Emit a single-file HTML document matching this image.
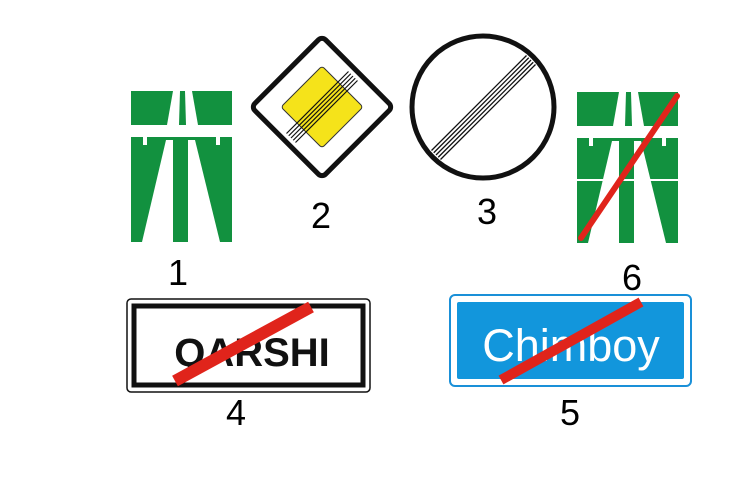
<!DOCTYPE html>
<html><head><meta charset="utf-8"><style>
html,body{margin:0;padding:0;background:#fff;}
svg{display:block;font-family:"Liberation Sans",sans-serif;}
</style></head><body>
<svg width="740" height="490" viewBox="0 0 740 490">
<defs>
<g id="mw">
<rect x="131" y="91" width="101" height="34" fill="#12913f"/>
<polygon points="173,91 192,91 198,125 167,125" fill="#fff"/>
<polygon points="180,91 185,91 186,125 179,125" fill="#12913f"/>
<rect x="131" y="137" width="101" height="105" fill="#12913f"/>
<rect x="143" y="137" width="4" height="8" fill="#fff"/>
<rect x="216" y="137" width="4" height="8" fill="#fff"/>
<polygon points="166,140 173,140 173,242 142,242" fill="#fff"/>
<polygon points="188,140 195,140 220,242 188,242" fill="#fff"/>
</g>
</defs>
<g><use href="#mw"/></g>
<text x="178" y="285" font-size="36" text-anchor="middle">1</text>

<g>
<rect x="272" y="57" width="100" height="100" rx="5" transform="rotate(45 322 107)" fill="#fff" stroke="#111" stroke-width="5"/>
<rect x="293" y="78" width="58" height="58" rx="3" transform="rotate(45 322 107)" fill="#f5e31a" stroke="#333" stroke-width="1"/>
<g stroke="#111" stroke-width="1.2">
<line x1="348.5" y1="71.5" x2="286.5" y2="133.5"/>
<line x1="350.75" y1="73.75" x2="288.75" y2="135.75"/>
<line x1="353" y1="76" x2="291" y2="138"/>
<line x1="355.25" y1="78.25" x2="293.25" y2="140.25"/>
<line x1="357.5" y1="80.5" x2="295.5" y2="142.5"/>
</g>
</g>
<text x="321" y="228" font-size="36" text-anchor="middle">2</text>

<g>
<circle cx="483" cy="107" r="71" fill="#fff" stroke="#111" stroke-width="5"/>
<g stroke="#111" stroke-width="1.3">
<line x1="526.5" y1="55.5" x2="431.5" y2="150.5"/>
<line x1="528.75" y1="57.75" x2="433.75" y2="152.75"/>
<line x1="531" y1="60" x2="436" y2="155"/>
<line x1="533.25" y1="62.25" x2="438.25" y2="157.25"/>
<line x1="535.5" y1="64.5" x2="440.5" y2="159.5"/>
</g>
</g>
<text x="487" y="224" font-size="36" text-anchor="middle">3</text>

<g>
<use href="#mw" transform="translate(446,1)"/>
<rect x="577" y="179" width="101" height="2" fill="#fff"/>
<line x1="581" y1="238" x2="677" y2="96" stroke="#e0241b" stroke-width="6" stroke-linecap="round"/>
</g>
<text x="632" y="290" font-size="36" text-anchor="middle">6</text>

<g>
<rect x="127" y="299" width="243" height="93" rx="4" fill="#fff" stroke="#111" stroke-width="1.5"/>
<rect x="134" y="306" width="229" height="79" fill="#fff" stroke="#111" stroke-width="5"/>
<text x="252" y="366" font-size="40" font-weight="bold" text-anchor="middle" fill="#111">QARSHI</text>
<line x1="175" y1="381" x2="311" y2="307" stroke="#e0241b" stroke-width="12"/>
</g>
<text x="236" y="425" font-size="36" text-anchor="middle">4</text>

<g>
<rect x="450" y="295" width="241" height="91" rx="5" fill="#fff" stroke="#1a90d8" stroke-width="2"/>
<rect x="457" y="302" width="227" height="77" rx="2" fill="#1296dc"/>
<text x="571" y="361" font-size="45" text-anchor="middle" fill="#fff">Chimboy</text>
<line x1="501" y1="380" x2="641" y2="302" stroke="#e0241b" stroke-width="10"/>
</g>
<text x="570" y="425" font-size="36" text-anchor="middle">5</text>
</svg>
</body></html>
